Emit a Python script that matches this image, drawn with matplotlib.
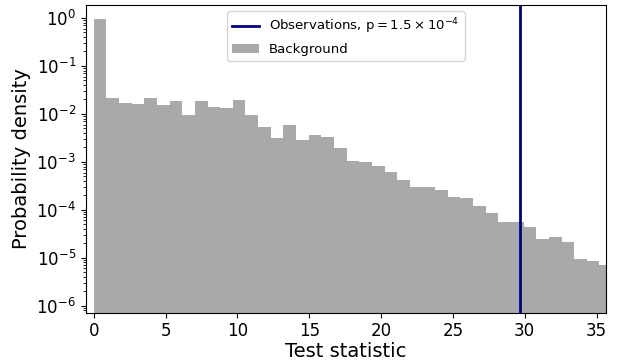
import numpy as np
import matplotlib
matplotlib.use('Agg')
import matplotlib.pyplot as plt

# histogram of the background test statistic (probability density per bin)
bin_width = 0.88
n_bins = 41
density = [0.95, 0.0218, 0.0171, 0.0163, 0.0218, 0.0153, 0.0186, 0.0095,
           0.0186, 0.0139, 0.0135, 0.0198, 0.0095, 0.0054, 0.0032, 0.0059,
           0.00286, 0.0036, 0.0033, 0.00195, 0.00104, 0.00099, 0.00082,
           0.00062, 0.00042, 0.000304, 0.000304, 0.00026, 0.000188,
           0.000177, 0.000122, 8.75e-5, 5.6e-5, 5.6e-5, 4.4e-5, 2.48e-5,
           2.73e-5, 2.18e-5, 9.5e-6, 8.75e-6, 7.1e-6]
obs_value = 29.66
p_label = r'Observations, $\mathregular{p = 1.5 \times 10^{-4}}$'

edges = np.arange(n_bins + 1) * bin_width

fig = plt.figure(figsize=(6.17, 3.64), dpi=100)
ax = fig.add_axes([0.139, 0.141, 0.843, 0.846])

ax.bar(edges[:-1], density, width=bin_width, align='edge',
       color='darkgrey', label='Background')
ax.axvline(obs_value, color='navy', lw=2, label=p_label)

ax.set_yscale('log')
ax.set_xlim(-0.56, 35.65)
ax.set_ylim(7.2e-7, 1.88)
ax.set_xticks([0, 5, 10, 15, 20, 25, 30, 35])
ax.tick_params(labelsize=12)
ax.set_xlabel('Test statistic', fontsize=14, labelpad=1)
ax.set_ylabel('Probability density', fontsize=14)

ax.legend(loc='upper center', fontsize=9.5)

fig.savefig('out.png', dpi=100)
